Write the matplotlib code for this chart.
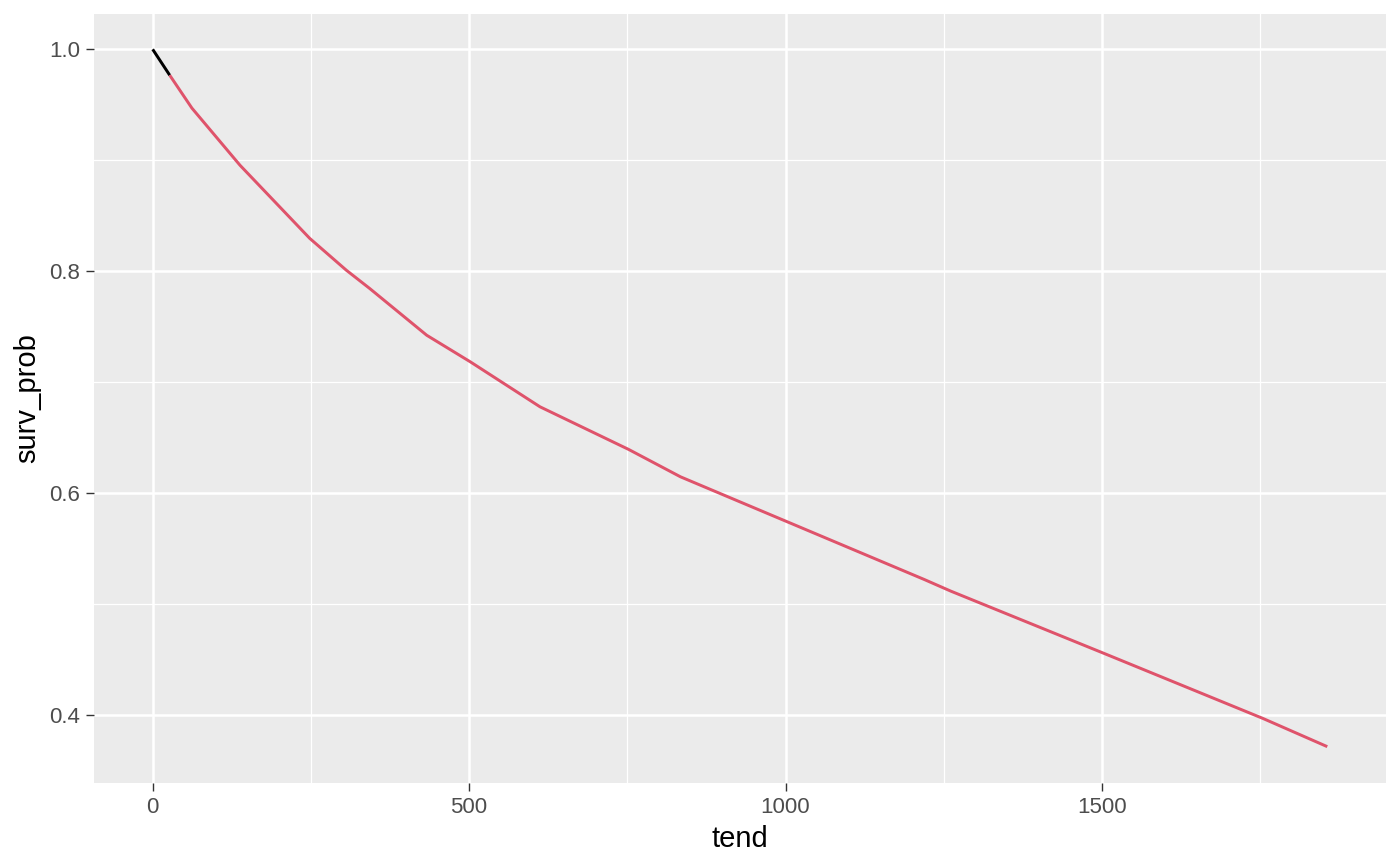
import matplotlib.pyplot as plt
import numpy as np

plt.rcParams['font.family'] = ['Liberation Sans', 'DejaVu Sans']

# --- 数据 ---
# 黑色起始段
start_t = [0, 27]
start_p = [1.0, 0.9766]

# 红色曲线
tend = [27, 62, 138, 248, 306, 343, 433, 502, 612, 752, 834,
        1003, 1219, 1261, 1503, 1754, 1856]
surv_prob = [0.9766, 0.947, 0.8955, 0.8297, 0.8009, 0.7844, 0.7423,
             0.7183, 0.6778, 0.6394, 0.6147, 0.5741, 0.5222, 0.5117,
             0.4556, 0.397, 0.3715]

x_major = [0, 500, 1000, 1500]
x_minor = [250, 750, 1250, 1750]
y_major = [0.4, 0.6, 0.8, 1.0]
y_minor = [0.5, 0.7, 0.9]

fig = plt.figure(figsize=(7, 4.33), dpi=200)
ax = fig.add_axes([0.0671, 0.0958, 0.9229, 0.888])
ax.set_facecolor('#EBEBEB')

# 网格线
for v in x_minor:
    ax.axvline(v, color='white', lw=0.45, zorder=0)
for v in y_minor:
    ax.axhline(v, color='white', lw=0.45, zorder=0)
for v in x_major:
    ax.axvline(v, color='white', lw=0.9, zorder=0)
for v in y_major:
    ax.axhline(v, color='white', lw=0.9, zorder=0)

ax.plot(start_t, start_p, color='black', lw=1.07, solid_capstyle='butt', zorder=3)
ax.plot(tend, surv_prob, color='#DF536B', lw=1.07, solid_capstyle='butt', zorder=3)

ax.set_xlim(-92.8, 1948.8)
ax.set_ylim(0.3387, 1.0318)
ax.set_xticks(x_major)
ax.set_yticks(y_major)
ax.set_yticklabels(['0.4', '0.6', '0.8', '1.0'])

for s in ax.spines.values():
    s.set_visible(False)
ax.tick_params(length=2.75, width=0.5, color='#333333', labelcolor='#4D4D4D',
               labelsize=8.0, pad=2.2)

ax.set_xlabel('tend', fontsize=10.5, labelpad=2.5)
ax.set_ylabel('surv_prob', fontsize=10.5, labelpad=3.0)

fig.savefig('out.png', dpi=200, facecolor='white')
